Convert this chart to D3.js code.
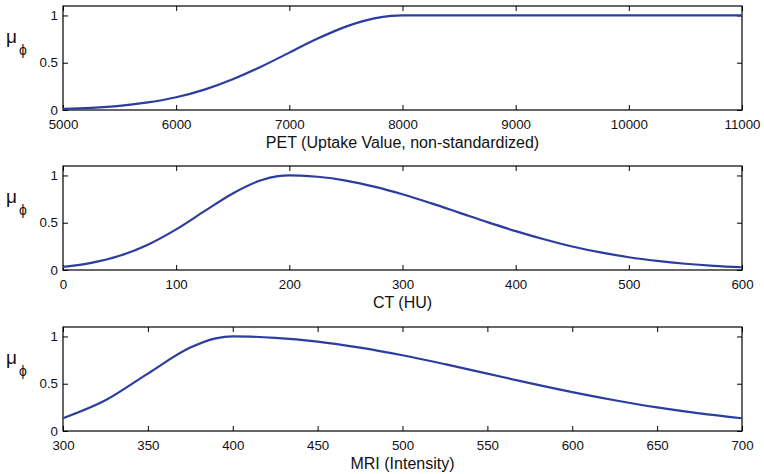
<!DOCTYPE html>
<html>
<head>
<meta charset="utf-8">
<script src="https://cdn.jsdelivr.net/npm/d3@7"></script>
<style>
  html, body { margin: 0; padding: 0; background: #fff; }
  svg { display: block; font-family: "Liberation Sans", Arial, Helvetica, sans-serif; }
</style>
</head>
<body>
<svg id="chart" width="764" height="474"></svg>
<script>
// Membership functions for the three imaging modalities

// PET uptake (non-standardized)
const petX = [5000, 5250, 5500, 5750, 6000, 6250, 6500, 6750, 7000, 7250, 7500, 7750, 7900, 8000, 8500, 9000, 9500, 10000, 10500, 11000];
const petY = [0.011, 0.023, 0.044, 0.080, 0.135, 0.216, 0.325, 0.458, 0.607, 0.755, 0.882, 0.969, 0.995, 1.0, 1.0, 1.0, 1.0, 1.0, 1.0, 1.0];

// CT (Hounsfield units)
const ctX = [0, 25, 50, 75, 100, 125, 150, 175, 190, 200, 210, 225, 250, 275, 300, 325, 350, 375, 400, 425, 450, 475, 500, 525, 550, 575, 600];
const ctY = [0.034, 0.076, 0.150, 0.268, 0.430, 0.622, 0.810, 0.949, 0.992, 1.0, 0.998, 0.986, 0.946, 0.882, 0.801, 0.707, 0.607, 0.506, 0.411, 0.325, 0.249, 0.186, 0.135, 0.096, 0.066, 0.044, 0.029];

// MRI intensity
const mriX = [300, 325, 350, 375, 390, 400, 410, 425, 450, 475, 500, 525, 550, 575, 600, 625, 650, 675, 700];
const mriY = [0.135, 0.325, 0.607, 0.882, 0.980, 1.0, 0.998, 0.986, 0.946, 0.882, 0.801, 0.707, 0.607, 0.506, 0.411, 0.325, 0.249, 0.186, 0.135];

// Tick values
const petTicks = [5000, 6000, 7000, 8000, 9000, 10000, 11000];
const ctTicks = [0, 100, 200, 300, 400, 500, 600];
const mriTicks = [300, 350, 400, 450, 500, 550, 600, 650, 700];
const yTicks = [0, 0.5, 1];
const yTickLabels = ["0", "0.5", "1"];

const panels = [
  { xs: petX, ys: petY, domain: [5000, 11000], ticks: petTicks, title: "PET (Uptake Value, non-standardized)", top: 6 },
  { xs: ctX, ys: ctY, domain: [0, 600], ticks: ctTicks, title: "CT (HU)", top: 166 },
  { xs: mriX, ys: mriY, domain: [300, 700], ticks: mriTicks, title: "MRI (Intensity)", top: 327 }
];

const svg = d3.select("#chart");
const left = 63, right = 742, height = 104;
const lineColor = "#2b3d9e";

panels.forEach(p => {
  const g = svg.append("g").attr("transform", `translate(0,${p.top})`);
  const x = d3.scaleLinear().domain(p.domain).range([left, right]);
  const y = d3.scaleLinear().domain([0, 1.1]).range([height, 0]);

  // bottom axis with labels
  const bx = g.append("g").attr("transform", `translate(0,${height})`)
    .call(d3.axisBottom(x).tickValues(p.ticks).tickSizeInner(-5).tickSizeOuter(0).tickPadding(9).tickFormat(d3.format("d")));
  // top axis, ticks only
  const tx = g.append("g")
    .call(d3.axisTop(x).tickValues(p.ticks).tickSizeInner(-5).tickSizeOuter(0).tickFormat(""));
  // left axis with labels
  const ly = g.append("g").attr("transform", `translate(${left},0)`)
    .call(d3.axisLeft(y).tickValues(yTicks).tickSizeInner(-5).tickSizeOuter(0).tickPadding(5)
      .tickFormat((d, i) => yTickLabels[i]));
  // right axis, ticks only
  const ry = g.append("g").attr("transform", `translate(${right},0)`)
    .call(d3.axisRight(y).tickValues(yTicks).tickSizeInner(-5).tickSizeOuter(0).tickFormat(""));

  [bx, tx, ly, ry].forEach(a => {
    a.select(".domain").remove();
    a.selectAll("line").attr("stroke", "#000");
    a.selectAll("text").attr("fill", "#111").style("font-size", "13.3px")
      .style("font-family", "'Liberation Sans', Arial, Helvetica, sans-serif");
  });
  bx.selectAll("text").attr("dy", "0.71em").attr("y", 9.3);

  // frame
  g.append("rect").attr("x", left).attr("y", 0).attr("width", right - left).attr("height", height)
    .attr("fill", "none").attr("stroke", "#000").attr("stroke-width", 1.2);

  // curve
  const pts = p.xs.map((v, i) => [v, p.ys[i]]);
  g.append("path").datum(pts)
    .attr("fill", "none").attr("stroke", lineColor).attr("stroke-width", 2.2)
    .attr("d", d3.line().x(d => x(d[0])).y(d => y(d[1])).curve(d3.curveMonotoneX));

  // axis title
  g.append("text").attr("x", (left + right) / 2).attr("y", height + 37.5)
    .attr("text-anchor", "middle").style("font-size", "16px").attr("fill", "#111")
    .text(p.title);

  // y label μ_ϕ
  const yl = g.append("text").attr("x", 6).attr("y", 36.7).attr("fill", "#111");
  yl.append("tspan").style("font-size", "19px").text("μ");
  yl.append("tspan").style("font-size", "14px").attr("dx", 2).attr("dy", 12).text("ϕ");
});
</script>
</body>
</html>
